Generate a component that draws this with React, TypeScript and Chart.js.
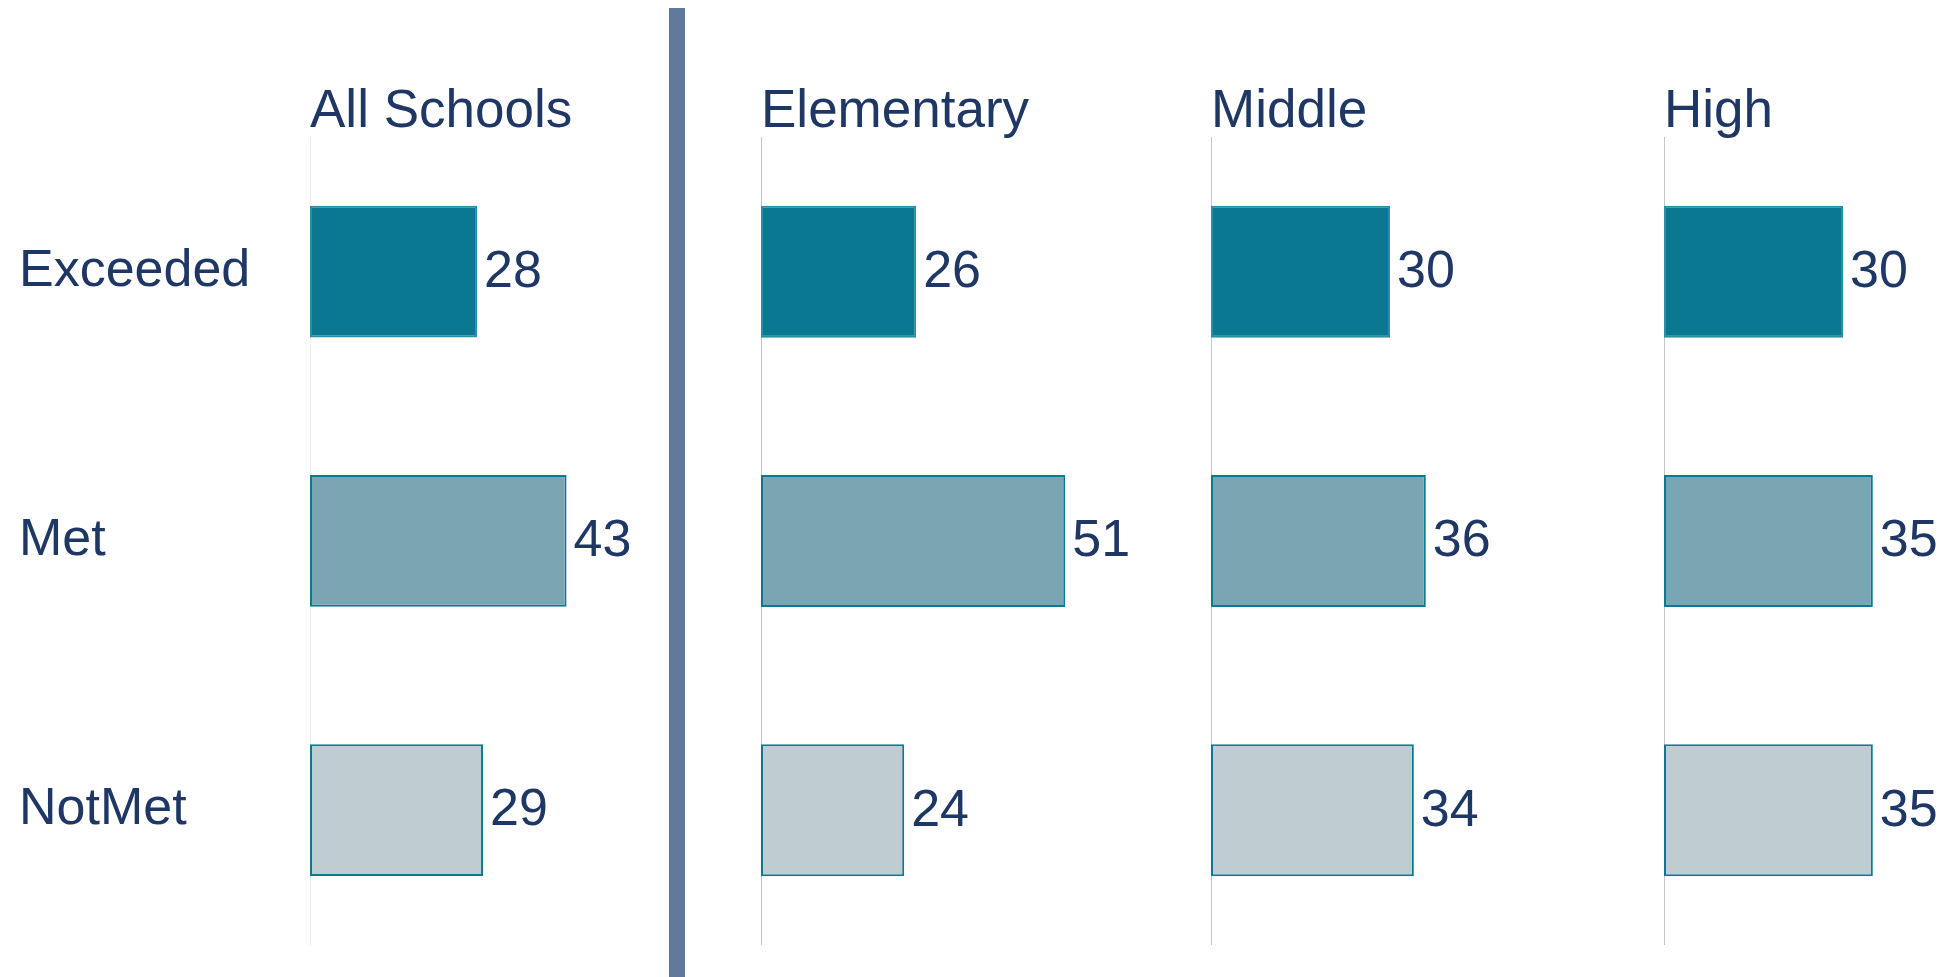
import React, { useEffect, useRef } from "react";
import { Chart, registerables } from "chart.js";

Chart.register(...registerables);

const categories = ["Exceeded", "Met", "NotMet"];
const panelTitles = ["All Schools", "Elementary", "Middle", "High"];
const allSchools = [28, 43, 29];
const elementary = [26, 51, 24];
const middle = [30, 36, 34];
const high = [30, 35, 35];
const panelValues = [allSchools, elementary, middle, high];

const NAVY = "#1e3764";
const FONT = "'Liberation Sans', Arial, sans-serif";
const FILLS = ["#0a7891", "#7aa5b2", "#bfcdd2"];
const BORDERS = ["#2a8ea5", "#0b7a90", "#0b7a90"];

const valueLabels = {
  id: "valueLabels",
  afterDatasetsDraw(chart: any) {
    const ctx = chart.ctx;
    ctx.save();
    ctx.font = `52px ${FONT}`;
    ctx.fillStyle = NAVY;
    ctx.textAlign = "left";
    ctx.textBaseline = "middle";
    chart.data.datasets.forEach((ds: any, di: number) => {
      const meta = chart.getDatasetMeta(di);
      meta.data.forEach((el: any, i: number) => {
        ctx.fillText(String(ds.data[i]), el.x + 7, el.y + 1);
      });
    });
    ctx.restore();
  },
};

type PanelProps = {
  index: number;
  left: number;
  width: number;
};

function Panel({ index, left, width }: PanelProps) {
  const ref = useRef<HTMLCanvasElement>(null);
  useEffect(() => {
    if (!ref.current) return;
    const first = index === 0;
    const chart = new Chart(ref.current, {
      type: "bar",
      data: {
        labels: categories,
        datasets: [
          {
            data: panelValues[index],
            backgroundColor: FILLS,
            borderColor: BORDERS,
            borderWidth: 2,
            borderSkipped: false,
            categoryPercentage: 1,
            barPercentage: 0.49,
          },
        ],
      },
      options: {
        indexAxis: "y",
        animation: false,
        responsive: false,
        maintainAspectRatio: false,
        layout: {
          padding: { left: first ? 19 : 0, right: 20, top: 0, bottom: 0 },
        },
        plugins: {
          legend: { display: false },
          tooltip: { enabled: false },
          title: {
            display: true,
            text: panelTitles[index],
            align: "start",
            fullSize: false,
            color: NAVY,
            font: { family: FONT, size: 53, weight: "normal", lineHeight: 1 },
            padding: { top: 3, bottom: -2 },
          },
        },
        scales: {
          x: {
            display: false,
            min: 0,
            max: 60,
          },
          y: {
            display: true,
            grid: { display: false, drawTicks: false },
            border: {
              display: true,
              color: first ? "#ececec" : "#c6c6c6",
              width: 1,
            },
            ticks: {
              display: first,
              crossAlign: "far",
              padding: 0,
              color: NAVY,
              font: { family: FONT, size: 52, lineHeight: 0.01 },
            },
            afterFit: (scale: any) => {
              scale.width = first ? 291 : 0;
            },
          },
        },
      },
      plugins: [valueLabels],
    });
    return () => chart.destroy();
  }, [index]);
  return (
    <canvas
      ref={ref}
      width={width}
      height={862}
      style={{ position: "absolute", left, top: 83, width, height: 862 }}
    />
  );
}

export default function App() {
  return (
    <div
      style={{
        position: "fixed",
        left: 0,
        top: 0,
        width: "100vw",
        height: "100vh",
        overflow: "hidden",
        background: "#ffffff",
      }}
    >
      <Panel index={0} left={0} width={688} />
      <Panel index={1} left={761} width={378} />
      <Panel index={2} left={1211} width={378} />
      <Panel index={3} left={1664} width={378} />
      <div
        style={{
          position: "absolute",
          left: 669,
          top: 8,
          width: 16,
          height: 969,
          background: "#62799b",
        }}
      />
    </div>
  );
}
